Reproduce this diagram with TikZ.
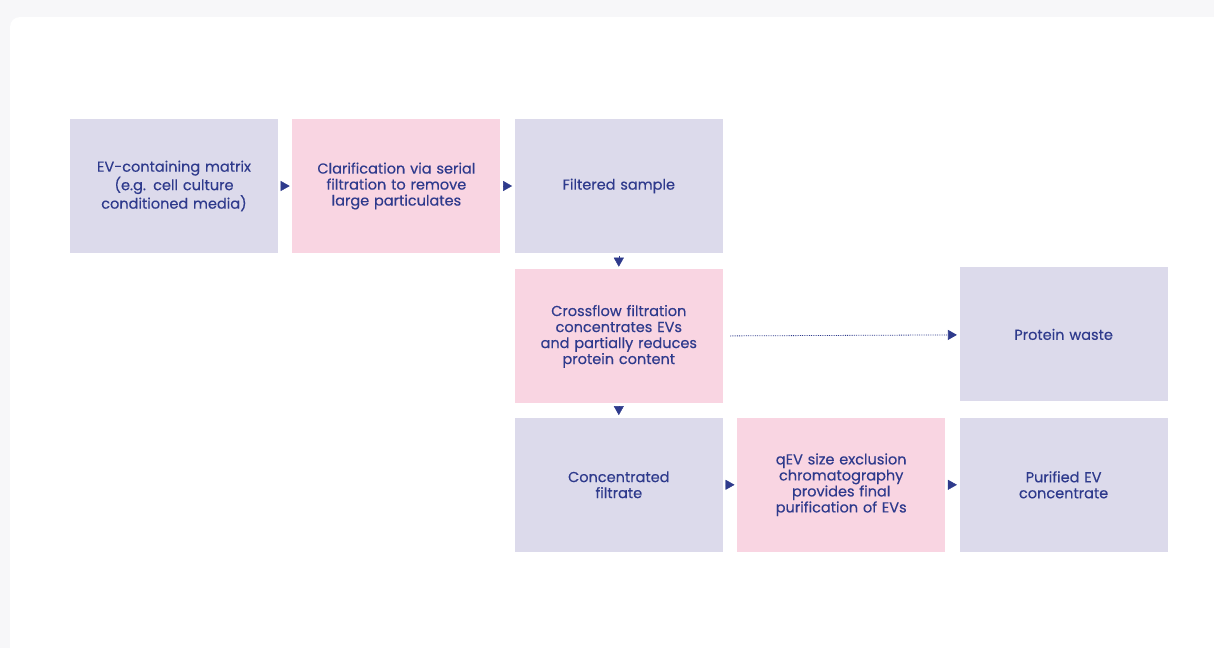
\documentclass[tikz,border=0pt]{standalone}
\usepackage{fontspec}
\setmainfont{Poppins}
\newfontfamily\evfont{Poppins}[FakeBold=0.35]
\usepackage{tikz}
\usetikzlibrary{arrows.meta,positioning}

\definecolor{evblue}{HTML}{2E3A8C}
\definecolor{lav}{HTML}{DCDAEB}
\definecolor{rose}{HTML}{F9D5E2}
\definecolor{paper}{HTML}{F7F7F9}

\begin{document}
\begin{tikzpicture}[x=1pt,y=-1pt,node distance=14pt,
    box/.style={minimum width=208pt,minimum height=134pt,inner sep=0pt,
      align=center,text=evblue,font=\evfont\fontsize{14.5}{16}\selectfont,
      text width=204pt},
    sample/.style={box,fill=lav},
    stage/.style={box,fill=rose},
    tip/.style={-{Triangle[length=9pt,width=10pt]},evblue,
      shorten <=2.5pt,shorten >=2.5pt}]
  % page and card
  \useasboundingbox (0,0) rectangle (1214,648);
  \fill[paper] (0,0) rectangle (1214,648);
  \fill[white,rounded corners=10pt] (10,17) rectangle (1240,670);

  \node[sample] (mx)                    at (174,186) {EV-containing matrix\\(e.g. cell culture\\conditioned media)};
  \node[stage]  (clar)  [right=of mx]   {Clarification via serial\\filtration to remove\\large particulates};
  \node[sample] (filt)  [right=of clar] {Filtered sample};
  \node[stage]  (cff)   [below=16pt of filt] {Crossflow filtration\\concentrates EVs\\and partially reduces\\protein content};
  \node[sample] (conc)  [below=of cff]  {Concentrated\\filtrate};
  \node[stage]  (qev)   [right=of conc] {qEV size exclusion\\chromatography\\provides final\\purification of EVs};
  \node[sample] (pure)  [right=of qev]  {Purified EV\\concentrate};
  \node[sample] (waste) [above=16pt of pure] {Protein waste};

  \path[tip]
        (mx)   edge (clar)
        (clar) edge (filt)
        (filt) edge (cff)
        (cff)  edge (conc)
        (conc) edge (qev)
        (qev)  edge (pure);
  \draw[tip,densely dotted,line width=0.8pt,shorten <=7pt] (cff) -- (waste);
\end{tikzpicture}
\end{document}
